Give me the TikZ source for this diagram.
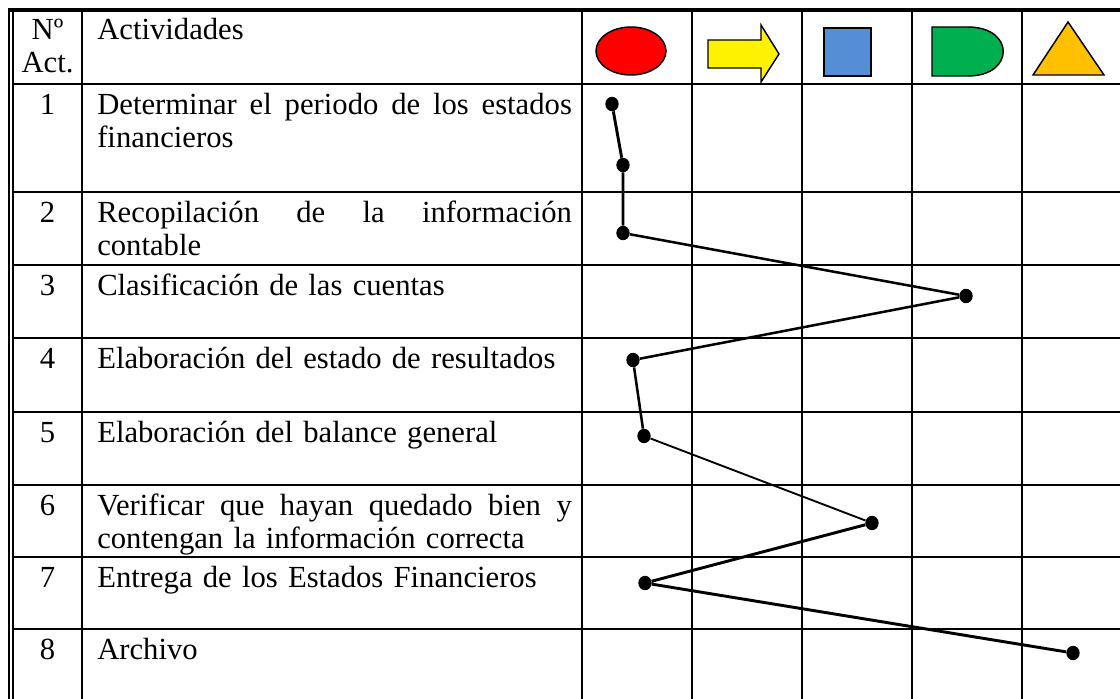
\documentclass[tikz,border=0pt]{standalone}
\usepackage{fontspec}
\setmainfont{Liberation Serif}
\usetikzlibrary{shapes.geometric}

\definecolor{sqblue}{HTML}{558ED5}
\definecolor{dgreen}{HTML}{00B050}
\definecolor{triorange}{HTML}{FFC000}
\newlength{\actw}
\setlength{\actw}{356pt}
\newcommand{\jline}[1]{\makebox[\actw][s]{\spaceskip=0pt\xspaceskip=0pt #1}}

\begin{document}
\begin{tikzpicture}[x=0.75pt, y=-0.75pt,
  grid/.style={line width=1.5pt},
  sym/.style={line width=1.1pt},
  dot/.style={ellipse, fill=black, inner sep=0pt, minimum width=10pt, minimum height=10.8pt},
  link/.style={line width=1.9pt},
  cell/.style={anchor=base west, inner sep=0pt, text width=380pt, align=left,
    font=\fontsize{23}{24.75}\selectfont},
  numcell/.style={anchor=base, inner sep=0pt, text width=45pt, align=center,
    font=\fontsize{23}{24.75}\selectfont}]
\useasboundingbox (0,0) rectangle (1120,699);
% table
\draw[line width=2.6pt] (8,10) -- (1120,10);
\draw[line width=1.1pt] (9,9) -- (9,699);
\draw[line width=1.1pt] (13,11) -- (13,699);
\foreach \y in {84,192,265,338,412,485,557,629}
  \draw[grid] (13,\y) -- (1120,\y);
\foreach \x in {82,582,692,802,912,1022}
  \draw[grid] (\x,10) -- (\x,699);
% header
\node[numcell] (hnum) at (47.5,40) {Nº\\Act.};
\node[cell] (hact) at (97,40) {Actividades};
\draw[sym, fill=red] (631,51) ellipse [x radius=35, y radius=24];
\draw[sym, fill=yellow] (708,40) -- (761,40) -- (761,25) -- (779,54) -- (761,82) -- (761,68) -- (708,68) -- cycle;
\draw[sym, fill=sqblue] (824,28) rectangle (871,76);
\draw[sym, fill=dgreen] (932,27) -- (968,27) .. controls (1015,27) and (1015,76) .. (968,76) -- (932,76) -- cycle;
\draw[sym, fill=triorange] (1068,22) -- (1104,75) -- (1033,75) -- cycle;
% activities
\node[numcell] (n1) at (47.5,114) {1};
\node[cell] (a1) at (97,114) {\jline{Determinar el periodo\ de los estados}\\financieros};
\node[numcell] (n2) at (47.5,222) {2};
\node[cell] (a2) at (97,222) {\jline{Recopilación de la información}\\contable};
\node[numcell] (n3) at (47.5,295) {3};
\node[cell] (a3) at (97,295) {Clasificación de las cuentas};
\node[numcell] (n4) at (47.5,368) {4};
\node[cell] (a4) at (97,368) {Elaboración del estado de resultados};
\node[numcell] (n5) at (47.5,442) {5};
\node[cell] (a5) at (97,442) {Elaboración del balance general};
\node[numcell] (n6) at (47.5,515) {6};
\node[cell] (a6) at (97,515) {\jline{Verificar que hayan quedado bien y}\\contengan la información correcta};
\node[numcell] (n7) at (47.5,587) {7};
\node[cell] (a7) at (97,587) {Entrega de los Estados Financieros};
\node[numcell] (n8) at (47.5,659) {8};
\node[cell] (a8) at (97,659) {Archivo};
% flow
\node[dot] (p1) at (612,104) {};
\node[dot] (p2) at (623,165) {};
\node[dot] (p3) at (623,233) {};
\node[dot] (p4) at (966,296) {};
\node[dot] (p5) at (633,360) {};
\node[dot] (p6) at (644,436) {};
\node[dot] (p7) at (872,523) {};
\node[dot] (p8) at (645,583) {};
\node[dot] (p9) at (1073,653) {};
\draw[link, line width=2.2pt] (p1) -- (p2) -- (p3);
\draw[link] (p3) -- (p4) -- (p5) -- (p6);
\draw[link, line width=1.4pt] (p6) -- (p7);
\draw[link, line width=2.2pt] (p7) -- (p8) -- (p9);
\end{tikzpicture}
\end{document}
